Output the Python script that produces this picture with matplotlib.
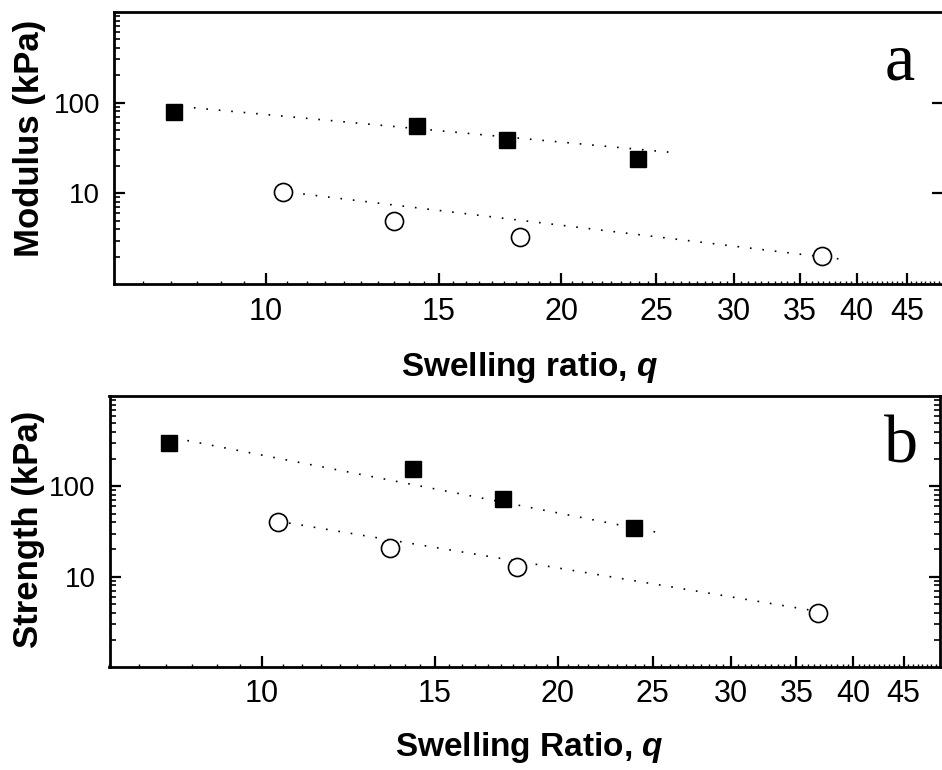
import numpy as np
import matplotlib
matplotlib.use("Agg")
import matplotlib.pyplot as plt
from matplotlib.ticker import FixedLocator, LogLocator, NullFormatter, NullLocator

plt.rcParams['font.family'] = ['Liberation Sans', 'DejaVu Sans']
plt.rcParams['mathtext.fontset'] = 'custom'
plt.rcParams['mathtext.bfit'] = 'Liberation Sans:italic:bold'
plt.rcParams['mathtext.it'] = 'Liberation Sans:italic:bold'

# ---------------- data ----------------
q_filled = [8.05, 14.26, 17.6, 23.95]
q_open = [10.4, 13.5, 18.17, 36.85]

modulus_filled = [79.4, 55.5, 38.8, 23.9]
modulus_open = [10.3, 5.0, 3.33, 2.05]

strength_filled = [298, 156, 72.4, 35.0]
strength_open = [40.8, 20.7, 12.7, 4.0]

# power-law guide lines  y = A * q**n over [q_start, q_end]
mod_fit_filled = dict(A=757.0, n=-1.01, q_range=[8.2, 26.2])
mod_fit_open = dict(A=225.0, n=-1.31, q_range=[10.6, 38.4])
str_fit_filled = dict(A=29580.0, n=-2.125, q_range=[8.4, 25.5])
str_fit_open = dict(A=2891.0, n=-1.817, q_range=[10.66, 36.1])

x_major = [10, 15, 20, 25, 30, 35, 40, 45]
x_labels = ['10', '15', '20', '25', '30', '35', '40', '45']
y_major = [10, 100]
y_labels = ['10', '100']

# ---------------- figure ----------------
W, H = 942, 770
fig = plt.figure(figsize=(W / 100, H / 100), dpi=100)

def px_axes(left, top, right, bottom):
    return fig.add_axes([left / W, 1 - bottom / H, (right - left) / W, (bottom - top) / H])

ax_a = px_axes(114, 12, 943, 284)
ax_b = px_axes(109.5, 396, 940, 667)

def fit_line(ax, fit):
    qq = np.geomspace(fit['q_range'][0], fit['q_range'][1], 200)
    ax.plot(qq, fit['A'] * qq ** fit['n'], color='black', lw=1.2,
            linestyle=(0, (1, 6.5)), zorder=1)

def style(ax, right_minor=True):
    ax.set_xscale('log')
    ax.set_yscale('log')
    ax.set_xlim(7.0, 49.0)
    ax.set_ylim(1, 1000)
    for s in ax.spines.values():
        s.set_linewidth(2.0)
    ax.xaxis.set_major_locator(FixedLocator(x_major))
    ax.set_xticklabels(x_labels)
    minors = [v for v in np.arange(7.0, 49.0, 0.5) if v not in x_major]
    ax.xaxis.set_minor_locator(FixedLocator(minors))
    ax.xaxis.set_minor_formatter(NullFormatter())
    ax.yaxis.set_major_locator(FixedLocator(y_major))
    ax.set_yticklabels(y_labels)
    ax.yaxis.set_minor_locator(LogLocator(base=10, subs=np.arange(2, 10)))
    ax.yaxis.set_minor_formatter(NullFormatter())
    ax.tick_params(axis='x', which='major', direction='in', length=8, width=1.6,
                   labelsize=22, pad=9, top=False, bottom=True)
    ax.tick_params(axis='x', which='minor', direction='in', length=2.5, width=1.0,
                   top=False, bottom=True)
    ax.tick_params(axis='y', which='major', direction='in', length=8, width=1.6,
                   labelsize=20, pad=10, left=True, right=True)
    ax.tick_params(axis='y', which='minor', direction='in', length=4.5, width=1.2,
                   left=True, right=right_minor)

# panel a
style(ax_a, right_minor=False)
fit_line(ax_a, mod_fit_filled)
fit_line(ax_a, mod_fit_open)
ax_a.plot(q_filled, modulus_filled, 's', color='black', ms=11, zorder=3)
ax_a.plot(q_open, modulus_open, 'o', mfc='white', mec='black', mew=1.2, ms=13, zorder=3)
ax_a.text(0.948, 0.75, 'a', transform=ax_a.transAxes, ha='center', va='baseline',
          fontsize=49, family='Liberation Serif')

# panel b
style(ax_b, right_minor=True)
fit_line(ax_b, str_fit_filled)
fit_line(ax_b, str_fit_open)
ax_b.plot(q_filled, strength_filled, 's', color='black', ms=11, zorder=3)
ax_b.plot(q_open, strength_open, 'o', mfc='white', mec='black', mew=1.2, ms=13, zorder=3)
ax_b.text(0.953, 0.755, 'b', transform=ax_b.transAxes, ha='center', va='baseline',
          fontsize=49, family='Liberation Serif')

# axis titles
fig.text(530 / W, 1 - 376 / H, r'Swelling ratio, $\mathbfit{q}$', ha='center', va='baseline',
         fontsize=24, fontweight='bold')
fig.text(529 / W, 1 - 756 / H, r'Swelling Ratio, $\mathbfit{q}$', ha='center', va='baseline',
         fontsize=24, fontweight='bold')
fig.text(30 / W, 1 - 138.5 / H, 'Modulus (kPa)', rotation=90, ha='center', va='center',
         fontsize=25, fontweight='bold')
fig.text(29 / W, 1 - 529 / H, 'Strength (kPa)', rotation=90, ha='center', va='center',
         fontsize=25, fontweight='bold')

fig.savefig('out.png', dpi=100)
